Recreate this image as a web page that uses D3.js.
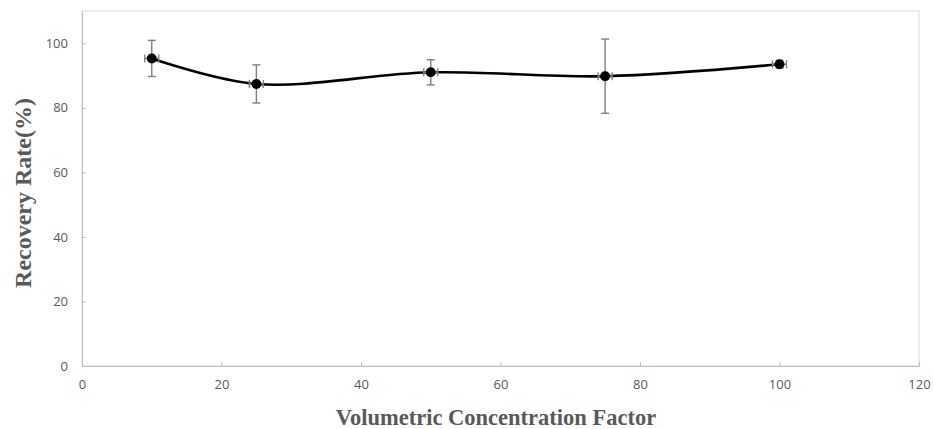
<!DOCTYPE html>
<html>
<head>
<meta charset="utf-8">
<script src="https://cdn.jsdelivr.net/npm/d3@7/dist/d3.min.js"></script>
<style>
  html, body { margin: 0; padding: 0; background: #fff; }
  svg { display: block; }
</style>
</head>
<body>
<svg id="chart" width="933" height="429"></svg>
<script>
// Recovery rate measured at each volumetric concentration factor
const factors = [10, 25, 50, 75, 100];
const recovery = [95.3, 87.4, 91.0, 89.8, 93.5];
const recoveryErr = [5.6, 5.9, 3.9, 11.5, 1.2];
const factorErr = [1, 1, 1, 1, 1];
const xTicks = [0, 20, 40, 60, 80, 100, 120];
const yTicks = [0, 20, 40, 60, 80, 100];

const W = 933, H = 429;
const margin = { left: 82, top: 11, right: 14, bottom: 63 };
const svg = d3.select("#chart");

const x = d3.scaleLinear().domain([0, 120]).range([margin.left, W - margin.right]);
const y = d3.scaleLinear().domain([0, 110]).range([H - margin.bottom, margin.top]);

const gridColor = "#d9d9d9";
const axisColor = "#bfbfbf";
const textColor = "#595959";

// plot frame
svg.append("rect")
  .attr("x", x(0)).attr("y", y(110))
  .attr("width", x(120) - x(0)).attr("height", y(0) - y(110))
  .attr("fill", "none").attr("stroke", gridColor).attr("stroke-width", 1);

// x axis (ticks point into the plot)
const xAxis = svg.append("g")
  .attr("transform", `translate(0,${y(0)})`)
  .call(d3.axisBottom(x).tickValues(xTicks).tickSizeInner(-4).tickSizeOuter(0).tickPadding(14));
xAxis.select(".domain").attr("stroke", axisColor);
xAxis.selectAll(".tick line").attr("stroke", axisColor);
xAxis.selectAll(".tick text")
  .attr("fill", textColor).attr("font-family", "'Open Sans', sans-serif").attr("font-size", 13);

// y axis
const yAxis = svg.append("g")
  .attr("transform", `translate(${x(0)},0)`)
  .call(d3.axisLeft(y).tickValues(yTicks).tickSizeInner(-4).tickSizeOuter(0).tickPadding(14));
yAxis.select(".domain").attr("stroke", axisColor);
yAxis.selectAll(".tick line").attr("stroke", axisColor);
yAxis.selectAll(".tick text")
  .attr("fill", textColor).attr("font-family", "'Open Sans', sans-serif").attr("font-size", 13);

const data = factors.map((f, i) => ({
  x: f, y: recovery[i], ey: recoveryErr[i], ex: factorErr[i]
}));

// smoothed series line
svg.append("path")
  .datum(data)
  .attr("fill", "none")
  .attr("stroke", "#000")
  .attr("stroke-width", 2.6)
  .attr("d", d3.line().x(d => x(d.x)).y(d => y(d.y)).curve(d3.curveCatmullRom.alpha(0.5)));

// error bars
const errColor = "#7f7f7f";
const eb = svg.append("g").attr("stroke", errColor).attr("stroke-width", 1.4);
data.forEach(d => {
  const cx = x(d.x), cy = y(d.y);
  const y1 = y(d.y + d.ey), y2 = y(d.y - d.ey);
  eb.append("line").attr("x1", cx).attr("x2", cx).attr("y1", y1).attr("y2", y2);
  eb.append("line").attr("x1", cx - 4).attr("x2", cx + 4).attr("y1", y1).attr("y2", y1);
  eb.append("line").attr("x1", cx - 4).attr("x2", cx + 4).attr("y1", y2).attr("y2", y2);
  const x1 = x(d.x - d.ex), x2 = x(d.x + d.ex);
  eb.append("line").attr("x1", x1).attr("x2", x2).attr("y1", cy).attr("y2", cy);
  eb.append("line").attr("x1", x1).attr("x2", x1).attr("y1", cy - 4).attr("y2", cy + 4);
  eb.append("line").attr("x1", x2).attr("x2", x2).attr("y1", cy - 4).attr("y2", cy + 4);
});

// markers
svg.append("g").selectAll("circle")
  .data(data).join("circle")
  .attr("cx", d => x(d.x)).attr("cy", d => y(d.y))
  .attr("r", 5).attr("fill", "#000");

// axis titles
svg.append("text")
  .attr("x", 496).attr("y", 425)
  .attr("text-anchor", "middle")
  .attr("font-family", "'Liberation Serif', 'Times New Roman', serif")
  .attr("font-weight", "bold").attr("font-size", 22.5)
  .attr("fill", textColor)
  .text("Volumetric Concentration Factor");

svg.append("text")
  .attr("transform", "translate(31,193) rotate(-90)")
  .attr("text-anchor", "middle")
  .attr("font-family", "'Liberation Serif', 'Times New Roman', serif")
  .attr("font-weight", "bold").attr("font-size", 24)
  .attr("fill", textColor)
  .text("Recovery Rate(%)");
</script>
</body>
</html>
